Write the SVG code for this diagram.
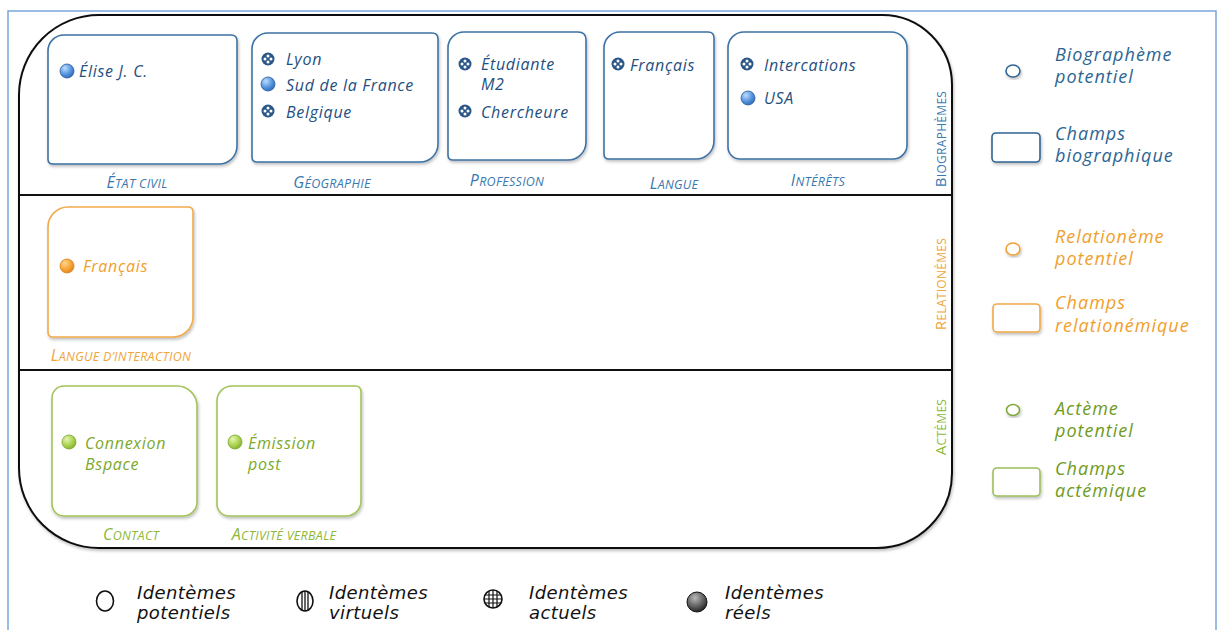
<svg xmlns="http://www.w3.org/2000/svg" width="1218" height="630" viewBox="0 0 1218 630">
<defs>
<style>
.t{font-family:"Open Sans","DejaVu Sans",sans-serif;font-style:italic;font-size:16px;letter-spacing:0.7px}
.tb{fill:#1f4f80}
.to{fill:#f0a02c}
.tg{fill:#7da82a}
.lbl{font-family:"Open Sans","DejaVu Sans",sans-serif;font-style:italic;font-size:12.5px;text-anchor:middle;letter-spacing:0.3px}
.lbl .big{font-size:16px}
.vl{font-family:"Open Sans","DejaVu Sans",sans-serif;font-size:12px;text-anchor:middle;letter-spacing:0.3px}
.vl .big{font-size:15px}
.lb{fill:#3a78b0}
.lo{fill:#f0a53a}
.lg{fill:#8cb83a}
.bx{fill:#fff;stroke-width:1.6}
.sb{stroke:#3d72a4}
.so{stroke:#f2aa4c}
.sg{stroke:#a2c45a}
.leg{font-family:"Open Sans","DejaVu Sans",sans-serif;font-style:italic;font-size:18px;letter-spacing:1px}
.bl{font-family:"DejaVu Sans",sans-serif;font-style:italic;font-size:18px;letter-spacing:0.4px;fill:#111}
.ic{fill:#fff;stroke:#111;stroke-width:1.6}
</style>
<radialGradient id="gB" cx="0.35" cy="0.3" r="0.8"><stop offset="0" stop-color="#bcdcff"/><stop offset="0.6" stop-color="#4f8fdc"/><stop offset="1" stop-color="#2d64b0"/></radialGradient>
<radialGradient id="gO" cx="0.35" cy="0.3" r="0.8"><stop offset="0" stop-color="#ffd58a"/><stop offset="0.6" stop-color="#f6a030"/><stop offset="1" stop-color="#d9821a"/></radialGradient>
<radialGradient id="gG" cx="0.35" cy="0.3" r="0.8"><stop offset="0" stop-color="#e4f6b0"/><stop offset="0.6" stop-color="#a6d04a"/><stop offset="1" stop-color="#7ea82a"/></radialGradient>
<radialGradient id="gK" cx="0.4" cy="0.3" r="0.8"><stop offset="0" stop-color="#b8b8b8"/><stop offset="0.6" stop-color="#555"/><stop offset="1" stop-color="#111"/></radialGradient>
<filter id="sh" x="-10%" y="-10%" width="130%" height="130%"><feDropShadow dx="1" dy="2" stdDeviation="1.5" flood-color="#000" flood-opacity="0.25"/></filter>
<g id="chk"><circle r="6.5" fill="#2a5788"/><circle cx="0" cy="-3" r="1.5" fill="#fff"/><circle cx="3" cy="0" r="1.5" fill="#fff"/><circle cx="0" cy="3" r="1.5" fill="#fff"/><circle cx="-3" cy="0" r="1.5" fill="#fff"/></g>
<circle id="dB" r="7" fill="url(#gB)" stroke="#2a5c9c" stroke-width="0.8"/>
<circle id="dO" r="7" fill="url(#gO)" stroke="#d4801a" stroke-width="0.8"/>
<circle id="dG" r="7" fill="url(#gG)" stroke="#7aa42a" stroke-width="0.8"/>
</defs>
<rect width="1218" height="630" fill="#fff"/>
<path d="M8,630 V11 H1216 V630" fill="none" stroke="#7aa6dc" stroke-width="1.5"/>

<g id="frame">
<path d="M99,15 H882 A70 70 0 0 1 952,85 V473 A75 75 0 0 1 877,548 H99 A80 80 0 0 1 19,468 V95 A80 80 0 0 1 99,15 Z" fill="#fff" stroke="#111" stroke-width="2" filter="url(#sh)"/>
<line x1="19" y1="195" x2="952" y2="195" stroke="#111" stroke-width="2"/>
<line x1="19" y1="370" x2="952" y2="370" stroke="#111" stroke-width="2"/>
<text class="vl lb" transform="translate(946,139) rotate(-90)"><tspan class="big">B</tspan>IOGRAPHÈMES</text>
<text class="vl lo" transform="translate(946,284) rotate(-90)"><tspan class="big">R</tspan>ELATIONÈMES</text>
<text class="vl lg" transform="translate(946,427) rotate(-90)"><tspan class="big">A</tspan>CTÈMES</text>
</g>

<g id="etat-civil">
<path class="bx sb" filter="url(#sh)" d="M64,35 H231 Q237,35 237,41 V146 A18 18 0 0 1 219,164 H53 Q48,164 48,159 V51 A16 16 0 0 1 64,35 Z"/>
<use href="#dB" x="67" y="71"/>
<text class="t tb" x="79" y="77">Élise J. C.</text>
<text class="lbl lb" x="137" y="188"><tspan class="big">É</tspan>TAT CIVIL</text>
</g>

<g id="geographie">
<path class="bx sb" filter="url(#sh)" d="M268,33 H432 Q438,33 438,39 V144 A18 18 0 0 1 420,162 H257 Q252,162 252,157 V49 A16 16 0 0 1 268,33 Z"/>
<use href="#chk" x="268" y="59"/>
<text class="t tb" x="286" y="65">Lyon</text>
<use href="#dB" x="268" y="84"/>
<text class="t tb" x="286" y="91">Sud de la France</text>
<use href="#chk" x="268" y="111"/>
<text class="t tb" x="286" y="118">Belgique</text>
<text class="lbl lb" x="332" y="188"><tspan class="big">G</tspan>ÉOGRAPHIE</text>
</g>

<g id="profession">
<path class="bx sb" filter="url(#sh)" d="M464,32 H578 Q586,32 586,40 V142 A18 18 0 0 1 568,160 H453 Q448,160 448,155 V48 A16 16 0 0 1 464,32 Z"/>
<use href="#chk" x="465" y="64"/>
<text class="t tb" x="481" y="70">Étudiante</text>
<text class="t tb" x="481" y="90">M2</text>
<use href="#chk" x="465" y="111"/>
<text class="t tb" x="481" y="118">Chercheure</text>
<text class="lbl lb" x="507" y="186"><tspan class="big">P</tspan>ROFESSION</text>
</g>

<g id="langue">
<path class="bx sb" filter="url(#sh)" d="M620,32 H708 Q714,32 714,38 V141 A18 18 0 0 1 696,159 H609 Q604,159 604,154 V48 A16 16 0 0 1 620,32 Z"/>
<use href="#chk" x="618" y="64"/>
<text class="t tb" x="630" y="71">Français</text>
<text class="lbl lb" x="674" y="189"><tspan class="big">L</tspan>ANGUE</text>
</g>

<g id="interets">
<path class="bx sb" filter="url(#sh)" d="M744,32 H891 A16 16 0 0 1 907,48 V145 A14 14 0 0 1 893,159 H740 A12 12 0 0 1 728,147 V48 A16 16 0 0 1 744,32 Z"/>
<use href="#chk" x="747" y="64"/>
<text class="t tb" x="764" y="71">Intercations</text>
<use href="#dB" x="748" y="98"/>
<text class="t tb" x="764" y="104">USA</text>
<text class="lbl lb" x="818" y="186"><tspan class="big">I</tspan>NTÉRÊTS</text>
</g>

<g id="langue-interaction">
<path class="bx so" filter="url(#sh)" d="M68,207 H188 Q193,207 193,212 V317 A20 20 0 0 1 173,337 H53 Q48,337 48,332 V227 A20 20 0 0 1 68,207 Z"/>
<use href="#dO" x="67" y="266"/>
<text class="t to" x="83" y="272">Français</text>
<text class="lbl lo" x="121" y="361"><tspan class="big">L</tspan>ANGUE D’INTERACTION</text>
</g>

<g id="contact">
<path class="bx sg" filter="url(#sh)" d="M64,386 H177 A20 20 0 0 1 197,406 V502 A14 14 0 0 1 183,516 H64 A12 12 0 0 1 52,504 V398 A12 12 0 0 1 64,386 Z"/>
<use href="#dG" x="69" y="442"/>
<text class="t tg" x="85" y="449">Connexion</text>
<text class="t tg" x="85" y="470">Bspace</text>
<text class="lbl lg" x="131" y="540"><tspan class="big">C</tspan>ONTACT</text>
</g>

<g id="activite-verbale">
<path class="bx sg" filter="url(#sh)" d="M232,386 H355 Q361,386 361,392 V501 A15 15 0 0 1 346,516 H229 A12 12 0 0 1 217,504 V401 A15 15 0 0 1 232,386 Z"/>
<use href="#dG" x="235" y="442"/>
<text class="t tg" x="248" y="449">Émission</text>
<text class="t tg" x="248" y="470">post</text>
<text class="lbl lg" x="284" y="540"><tspan class="big">A</tspan>CTIVITÉ VERBALE</text>
</g>

<g id="legend-biographeme">
<ellipse cx="1013" cy="71" rx="7" ry="6" fill="#fff" stroke="#2f6494" stroke-width="1.6" filter="url(#sh)"/>
<text class="leg" fill="#2c6594" x="1055" y="61">Biographème</text>
<text class="leg" fill="#2c6594" x="1055" y="83">potentiel</text>
</g>
<g id="legend-champs-bio">
<rect x="992" y="133" width="48" height="29" rx="4" fill="#fff" stroke="#2f6494" stroke-width="1.6" filter="url(#sh)"/>
<text class="leg" fill="#2c6594" x="1055" y="140">Champs</text>
<text class="leg" fill="#2c6594" x="1055" y="162">biographique</text>
</g>
<g id="legend-relationeme">
<ellipse cx="1013" cy="249" rx="7" ry="6" fill="#fff" stroke="#f0a030" stroke-width="1.6" filter="url(#sh)"/>
<text class="leg" fill="#f0a02c" x="1055" y="243">Relationème</text>
<text class="leg" fill="#f0a02c" x="1055" y="265">potentiel</text>
</g>
<g id="legend-champs-rel">
<rect x="993" y="304" width="47" height="28" rx="4" fill="#fff" stroke="#f0a848" stroke-width="1.6" filter="url(#sh)"/>
<text class="leg" fill="#f0a02c" x="1055" y="309">Champs</text>
<text class="leg" fill="#f0a02c" x="1055" y="332">relationémique</text>
</g>
<g id="legend-acteme">
<ellipse cx="1013" cy="410" rx="6.5" ry="5.5" fill="#fff" stroke="#7fa83a" stroke-width="1.6" filter="url(#sh)"/>
<text class="leg" fill="#6f9a22" x="1055" y="415">Actème</text>
<text class="leg" fill="#6f9a22" x="1055" y="437">potentiel</text>
</g>
<g id="legend-champs-act">
<rect x="993" y="468" width="47" height="28" rx="4" fill="#fff" stroke="#9cbf5a" stroke-width="1.6" filter="url(#sh)"/>
<text class="leg" fill="#6f9a22" x="1055" y="475">Champs</text>
<text class="leg" fill="#6f9a22" x="1055" y="497">actémique</text>
</g>

<g id="legend-potentiels">
<ellipse class="ic" cx="105" cy="601" rx="8.5" ry="10"/>
<text class="bl" x="137" y="599">Identèmes</text>
<text class="bl" x="137" y="619">potentiels</text>
</g>
<g id="legend-virtuels">
<ellipse class="ic" cx="305" cy="601" rx="8" ry="10"/>
<line x1="302" y1="592" x2="302" y2="610" stroke="#111" stroke-width="1.3"/>
<line x1="305" y1="591" x2="305" y2="611" stroke="#111" stroke-width="1.3"/>
<line x1="308" y1="592" x2="308" y2="610" stroke="#111" stroke-width="1.3"/>
<text class="bl" x="329" y="599">Identèmes</text>
<text class="bl" x="329" y="619">virtuels</text>
</g>
<g id="legend-actuels">
<circle class="ic" cx="493" cy="599" r="9"/>
<path d="M489,591 V607 M493,590 V608 M497,591 V607 M485,595 H501 M484,599 H502 M485,603 H501" stroke="#111" stroke-width="1.2" fill="none"/>
<text class="bl" x="529" y="599">Identèmes</text>
<text class="bl" x="529" y="619">actuels</text>
</g>
<g id="legend-reels">
<ellipse cx="697" cy="602" rx="10" ry="10" fill="url(#gK)" stroke="#111" stroke-width="1"/>
<text class="bl" x="725" y="599">Identèmes</text>
<text class="bl" x="725" y="619">réels</text>
</g>
</svg>
